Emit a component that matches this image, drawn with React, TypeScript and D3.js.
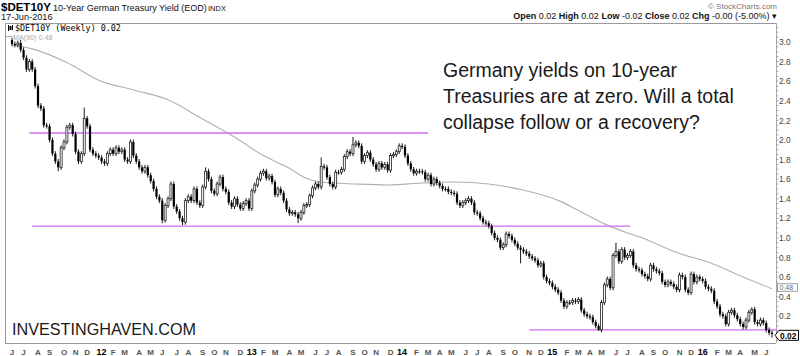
import React from "react";
import * as d3 from "d3";

// ---------- DATA ----------
const firstWeek = new Date(2011, 5, 3); // Friday of first weekly bar
const lastWeek = new Date(2016, 5, 17);
const firstOpen = 3.02;

// weekly closes, 264 weeks from 2011-06-03 to 2016-06-17
const closes: number[] = [
  2.98, 2.97, 2.99, 2.92, 2.84, 2.72, 2.80, 2.72, 2.55, 2.35,
  2.32, 2.15, 2.14, 2.00, 1.86, 1.78, 1.72, 1.92, 1.98, 2.13,
  2.15, 2.06, 1.88, 1.78, 1.86, 2.22, 2.14, 1.90, 1.86, 1.84,
  1.82, 1.78, 1.76, 1.86, 1.90, 1.86, 1.92, 1.88, 1.90, 1.80,
  1.78, 1.98, 1.84, 1.78, 1.72, 1.68, 1.72, 1.64, 1.58, 1.50,
  1.42, 1.38, 1.18, 1.33, 1.40, 1.55, 1.32, 1.27, 1.20, 1.16,
  1.38, 1.42, 1.38, 1.50, 1.36, 1.33, 1.52, 1.68, 1.60, 1.48,
  1.45, 1.55, 1.62, 1.50, 1.47, 1.36, 1.32, 1.40, 1.34, 1.30,
  1.35, 1.38, 1.30, 1.48, 1.54, 1.60, 1.66, 1.68, 1.61, 1.63,
  1.57, 1.44, 1.50, 1.46, 1.38, 1.29, 1.25, 1.26, 1.24, 1.20,
  1.26, 1.33, 1.34, 1.43, 1.51, 1.55, 1.52, 1.73, 1.72, 1.62,
  1.55, 1.52, 1.67, 1.67, 1.70, 1.83, 1.88, 1.86, 1.95, 1.97,
  1.94, 1.78, 1.84, 1.87, 1.80, 1.75, 1.70, 1.76, 1.72, 1.75,
  1.69, 1.84, 1.85, 1.88, 1.94, 1.93, 1.84, 1.76, 1.70, 1.66,
  1.68, 1.68, 1.67, 1.60, 1.64, 1.55, 1.60, 1.56, 1.53, 1.50,
  1.50, 1.47, 1.46, 1.45, 1.36, 1.33, 1.36, 1.38, 1.40, 1.36,
  1.26, 1.25, 1.20, 1.16, 1.15, 1.12, 1.05, 1.00, 0.98, 0.90,
  0.93, 1.04, 1.02, 0.98, 0.94, 0.90, 0.88, 0.86, 0.84, 0.81,
  0.79, 0.77, 0.72, 0.74, 0.60, 0.56, 0.54, 0.50, 0.47, 0.44,
  0.36, 0.30, 0.34, 0.34, 0.36, 0.35, 0.37, 0.26, 0.22, 0.20,
  0.19, 0.14, 0.10, 0.06, 0.34, 0.52, 0.58, 0.49, 0.82, 0.86,
  0.76, 0.88, 0.80, 0.82, 0.86, 0.72, 0.68, 0.67, 0.63, 0.61,
  0.58, 0.72, 0.68, 0.66, 0.64, 0.55, 0.52, 0.55, 0.53, 0.50,
  0.47, 0.62, 0.60, 0.47, 0.44, 0.63, 0.55, 0.60, 0.58, 0.56,
  0.50, 0.48, 0.46, 0.35, 0.30, 0.22, 0.20, 0.12, 0.24, 0.26,
  0.21, 0.17, 0.12, 0.09, 0.16, 0.24, 0.27, 0.14, 0.12, 0.16,
  0.13, 0.06, 0.03, 0.02,
];

// notable wick extremes: [week index, value]
const wickHighs: [number, number][] = [
  [3, 3.02], [25, 2.33], [67, 1.72], [107, 1.82], [118, 2.03], [209, 0.95], [256, 0.29],
];
const wickLows: [number, number][] = [
  [16, 1.68], [52, 1.15], [59, 1.13], [99, 1.15], [176, 0.74], [203, 0.05], [263, -0.02],
];

// MA(90)
const maWeeks = [0, 7, 19, 30, 42, 54, 65, 77, 87, 96, 101, 107, 119, 130, 142, 153, 165, 175, 190, 196, 206, 213, 218, 230, 242, 253, 263];
const maValues = [2.97, 2.93, 2.79, 2.61, 2.51, 2.41, 2.23, 2.03, 1.84, 1.71, 1.62, 1.57, 1.55, 1.54, 1.56, 1.57, 1.55, 1.50, 1.37, 1.28, 1.13, 1.05, 1.00, 0.85, 0.74, 0.60, 0.48];

// horizontal support / resistance lines
const levelValues = [2.07, 1.12, 0.06];
const levelFrom = [6, 7, 179];
const levelTo = [144, 214, 265];

const yTicks = [0.2, 0.4, 0.6, 0.8, 1.0, 1.2, 1.4, 1.6, 1.8, 2.0, 2.2, 2.4, 2.6, 2.8, 3.0];
const monthLabels = [
  "J", "J", "A", "S", "O", "N", "D",
  "12", "F", "M", "A", "M", "J", "J", "A", "S", "O", "N", "D",
  "13", "F", "M", "A", "M", "J", "J", "A", "S", "O", "N", "D",
  "14", "F", "M", "A", "M", "J", "J", "A", "S", "O", "N", "D",
  "15", "F", "M", "A", "M", "J", "J", "A", "S", "O", "N", "D",
  "16", "F", "M", "A", "M", "J",
];
const annotationLines = [
  "Germany yields on 10-year",
  "Treasuries are at zero. Will a total",
  "collapse follow or a recovery?",
];

// ---------- CHART ----------
const FONT = "'Liberation Sans', Arial, sans-serif";

export default function App() {
  const W = 800, H = 356;
  const frameL = 5, frameT = 23, frameB = 343, axisX = 776;

  const weekDate = (i: number) => d3.timeDay.offset(firstWeek, 7 * i);
  const x = d3.scaleTime().domain([firstWeek, lastWeek]).range([12, 772]);
  const y = d3.scaleLinear().domain([0.2, 3.0]).range([316.2, 42]);

  const hiMap = new Map(wickHighs);
  const loMap = new Map(wickLows);

  const candles = closes.map((c, i) => {
    const o = i === 0 ? firstOpen : closes[i - 1];
    const top = Math.max(o, c), bot = Math.min(o, c);
    const hi = hiMap.has(i) ? (hiMap.get(i) as number) : top + 0.025;
    const lo = loMap.has(i) ? (loMap.get(i) as number) : bot - 0.025;
    return { i, o, c, hi, lo, top, bot, up: c > o, cx: x(weekDate(i)) };
  });

  const maLine = d3
    .line<number>()
    .x((_, k) => x(weekDate(maWeeks[k])))
    .y((v) => y(v))
    .curve(d3.curveMonotoneX)(maValues) as string;

  const monthTicks = monthLabels.map((lab, k) => {
    const mStart = new Date(2011, 5 + k, 1);
    const fri = d3.timeFriday.ceil(mStart);
    return { lab, x: x(fri), year: /\d/.test(lab) };
  });

  const minorTicks = d3.range(-5, 64).map((k) => k * 0.05);

  return (
    <svg
      width={W}
      height={H}
      style={{ position: "absolute", left: 0, top: 0, background: "#fff" }}
      fontFamily={FONT}
    >
      <rect x={0} y={0} width={W} height={H} fill="#fff" />

      {/* header left */}
      <text x={1} y={11} fontSize={11.5} fontWeight="bold" fill="#000">$DET10Y</text>
      <text x={53} y={11} fontSize={9} fill="#111">10-Year German Treasury Yield (EOD)</text>
      <text x={208} y={11} fontSize={7.5} fill="#111">INDX</text>
      <text x={1} y={19.5} fontSize={9.2} fill="#111">17-Jun-2016</text>

      {/* header right */}
      <text x={777} y={9} fontSize={8} fill="#777" textAnchor="end">© StockCharts.com</text>
      <text x={777} y={19} fontSize={9} fill="#111" textAnchor="end">
        <tspan fontWeight="bold">Open</tspan> 0.02 <tspan fontWeight="bold">High</tspan> 0.02{" "}
        <tspan fontWeight="bold">Low</tspan> -0.02 <tspan fontWeight="bold">Close</tspan> 0.02{" "}
        <tspan fontWeight="bold">Chg</tspan> -0.00 (-5.00%) ▾
      </text>

      {/* frame */}
      <line x1={frameL} x2={axisX} y1={frameT + 0.5} y2={frameT + 0.5} stroke="#999" />
      <line x1={frameL} x2={axisX} y1={frameB + 0.5} y2={frameB + 0.5} stroke="#999" />
      <line x1={frameL + 0.5} x2={frameL + 0.5} y1={frameT} y2={frameB} stroke="#999" />
      <line x1={axisX + 0.5} x2={axisX + 0.5} y1={frameT} y2={frameB} stroke="#aaa" />
      {minorTicks.map((v) =>
        y(v) > frameT && y(v) < frameB ? (
          <line key={v} x1={axisX} x2={axisX + 2.5} y1={y(v)} y2={y(v)} stroke="#999" strokeWidth={0.8} />
        ) : null
      )}

      {/* legend */}
      <g>
        <line x1={8.5} x2={8.5} y1={25} y2={31} stroke="#000" />
        <rect x={9.5} y={26} width={2} height={4} fill="#000" />
        <line x1={12.5} x2={12.5} y1={25} y2={30} stroke="#000" />
      </g>
      <text x={15} y={31} fontSize={8.4} fontFamily="'DejaVu Sans Mono', monospace" fill="#000">
        $DET10Y (Weekly) 0.02
      </text>
      <line x1={6} x2={12} y1={36.5} y2={36.5} stroke="#aaa" />
      <text x={13} y={39.5} fontSize={7.2} fill="#aaa">MA(90) 0.48</text>

      {/* annotation */}
      {annotationLines.map((t, k) => (
        <text key={k} x={443} y={77 + k * 26} fontSize={19.5} fill="#1a1a1a">{t}</text>
      ))}
      <text x={12} y={335} fontSize={16.2} fill="#1a1a1a">INVESTINGHAVEN.COM</text>

      {/* MA line */}
      <path d={maLine} fill="none" stroke="#b0b0b0" strokeWidth={1.1} />

      {/* levels */}
      {levelValues.map((v, k) => (
        <line
          key={k}
          x1={x(weekDate(levelFrom[k]))}
          x2={Math.min(x(weekDate(levelTo[k])), axisX + 1)}
          y1={y(v)}
          y2={y(v)}
          stroke="#d36cf0"
          strokeWidth={1.4}
        />
      ))}

      {/* candles */}
      {candles.map((d) => {
        const yt = y(d.top), yb = y(d.bot);
        const h = Math.max(1.2, yb - yt);
        return (
          <g key={d.i}>
            <line x1={d.cx} x2={d.cx} y1={y(d.hi)} y2={y(d.lo)} stroke="#000" strokeWidth={0.9} />
            {d.up ? (
              <rect x={d.cx - 1} y={yt} width={2} height={h} fill="#fff" stroke="#222" strokeWidth={0.8} />
            ) : (
              <rect x={d.cx - 1.1} y={yt} width={2.2} height={h} fill="#000" />
            )}
          </g>
        );
      })}

      {/* y axis labels */}
      {yTicks.map((v) => (
        <text key={v} x={779} y={y(v) + 3.2} fontSize={8.4} fill="#444">
          {v.toFixed(1)}
        </text>
      ))}

      {/* value tags */}
      <rect x={777.5} y={y(0.48) - 5} width={20} height={7.5} fill="#fff" stroke="#888" strokeWidth={0.8} />
      <text x={779.5} y={y(0.48) + 1.2} fontSize={7} fill="#666">0.48</text>
      <path
        d={`M${axisX - 1},${y(0.02) + 1.5} L${axisX + 3},${y(0.02) - 3.5} L798.5,${y(0.02) - 3.5} L798.5,${y(0.02) + 6.5} L${axisX + 3},${y(0.02) + 6.5} Z`}
        fill="#fff"
        stroke="#000"
        strokeWidth={1}
      />
      <text x={780} y={y(0.02) + 5} fontSize={8.4} fontWeight="bold" fill="#000">0.02</text>

      {/* x axis labels */}
      {monthTicks.map((t, k) => (
        <text
          key={k}
          x={t.x}
          y={355}
          fontSize={t.year ? 9 : 8}
          fontWeight="bold"
          fill={t.year ? "#000" : "#555"}
          textAnchor="middle"
        >
          {t.lab}
        </text>
      ))}
    </svg>
  );
}
